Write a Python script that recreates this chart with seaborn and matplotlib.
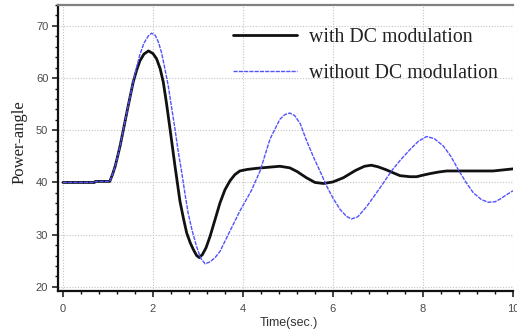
import numpy as np
import pandas as pd
import seaborn as sns
import matplotlib.pyplot as plt
from matplotlib.ticker import MultipleLocator

# === Dati ===
t_with = [0.00, 0.70, 0.72, 1.04, 1.10, 1.16, 1.22, 1.27, 1.34, 1.45, 1.56, 1.64,
          1.71, 1.80, 1.90, 2.00, 2.08, 2.16, 2.23, 2.30, 2.38, 2.49, 2.60, 2.68,
          2.75, 2.83, 2.90, 2.97, 3.03, 3.10, 3.18, 3.27, 3.38, 3.49, 3.60, 3.71,
          3.82, 3.93, 4.10, 4.30, 4.55, 4.82, 5.04, 5.20, 5.41, 5.60, 5.79, 6.00,
          6.23, 6.50, 6.70, 6.85, 7.00, 7.19, 7.35, 7.49, 7.71, 7.86, 8.00, 8.16,
          8.35, 8.53, 9.00, 9.56, 9.78, 10.00]
with_dc = [40.0, 40.0, 40.2, 40.2, 41.5, 43.1, 45.2, 47.0, 50.0, 54.7, 59.2, 61.6,
           63.3, 64.6, 65.2, 64.7, 63.7, 61.8, 59.2, 55.2, 50.2, 43.1, 36.4, 33.0,
           30.3, 28.4, 27.1, 26.0, 25.6, 26.2, 27.5, 29.7, 32.9, 36.1, 38.6, 40.3,
           41.5, 42.2, 42.5, 42.7, 42.9, 43.1, 42.8, 42.1, 40.9, 40.0, 39.8, 40.1,
           40.9, 42.3, 43.1, 43.3, 43.0, 42.4, 41.8, 41.3, 41.1, 41.1, 41.4, 41.7,
           42.0, 42.2, 42.2, 42.2, 42.4, 42.6]

t_without = [0.00, 0.70, 0.72, 1.04, 1.10, 1.16, 1.22, 1.27, 1.34, 1.45, 1.56, 1.64,
             1.71, 1.80, 1.90, 1.97, 2.05, 2.12, 2.19, 2.26, 2.34, 2.41, 2.49, 2.56,
             2.64, 2.71, 2.78, 2.87, 2.97, 3.06, 3.16, 3.27, 3.38, 3.49, 3.70, 3.93,
             4.19, 4.38, 4.60, 4.82, 4.93, 5.04, 5.15, 5.27, 5.40, 5.56, 5.71, 5.86,
             6.00, 6.16, 6.30, 6.41, 6.55, 6.75, 6.95, 7.12, 7.30, 7.49, 7.71, 7.90,
             8.08, 8.25, 8.45, 8.62, 8.78, 8.95, 9.12, 9.30, 9.45, 9.60, 9.71, 9.85,
             10.00]
without_dc = [40.0, 40.0, 40.2, 40.2, 41.5, 43.1, 45.2, 47.0, 50.0, 54.7, 59.3, 62.2,
              64.5, 66.7, 68.1, 68.6, 68.2, 66.9, 64.9, 62.0, 58.5, 54.6, 50.2, 46.0,
              41.9, 37.9, 34.2, 30.8, 27.7, 25.5, 24.4, 24.8, 25.6, 26.8, 30.5, 34.5,
              38.5, 42.2, 48.3, 52.1, 53.0, 53.3, 52.8, 51.3, 48.3, 45.0, 42.2, 39.3,
              37.0, 34.8, 33.5, 33.0, 33.4, 35.4, 37.8, 39.9, 42.2, 44.2, 46.3, 47.9,
              48.8, 48.4, 47.0, 45.0, 42.5, 40.1, 38.0, 36.7, 36.2, 36.3, 36.8, 37.6,
              38.4]

x_ticks = [0, 2, 4, 6, 8, 10]
y_ticks = [20, 30, 40, 50, 60, 70]

sns.set_theme(style="white")
plt.rcParams['font.family'] = ['Liberation Sans', 'DejaVu Sans']

fig = plt.figure(figsize=(5.17, 3.34), dpi=100)
ax = fig.add_axes([58 / 517, 43 / 334, 455 / 517, 286 / 334])

# === Curve ===
sns.lineplot(x=t_with, y=with_dc, ax=ax, color='#111111', linewidth=2.0,
             label='with DC modulation', sort=False)
sns.lineplot(x=t_without, y=without_dc, ax=ax, color='#5252ff', linewidth=1.0,
             linestyle=(0, (3, 0.8)), label='without DC modulation', sort=False)

ax.set_xlim(-0.11, 10.0)
ax.set_ylim(19.2, 74.0)
ax.set_xticks(x_ticks)
ax.set_yticks(y_ticks)
ax.xaxis.set_minor_locator(MultipleLocator(0.4))
ax.yaxis.set_minor_locator(MultipleLocator(2))

ax.grid(True, which='major', linestyle=(0, (1, 1.5)), color='#c4c4c4', linewidth=0.8)

ax.tick_params(which='both', direction='out', bottom=True, left=True,
               colors='#111111', labelcolor='#4a4a4a', labelsize=8)
ax.tick_params(which='major', length=4, width=1.1)
ax.tick_params(which='minor', length=2.5, width=1.0)
ax.tick_params(axis='x', pad=5)
ax.tick_params(axis='y', pad=3)

for side in ['left', 'bottom']:
    ax.spines[side].set_color('#111111')
    ax.spines[side].set_linewidth(1.6)
ax.spines['top'].set_color('#808080')
ax.spines['top'].set_linewidth(1.6)
ax.spines['right'].set_visible(False)

ax.set_xlabel('Time(sec.)', fontsize=9, color='#333333')
ax.xaxis.set_label_coords(0.508, -0.09)
ax.set_ylabel('Power-angle', fontsize=12, color='#222222', family='Liberation Serif')
ax.yaxis.set_label_coords(-0.068, 0.52)

leg = ax.legend(loc='upper left', bbox_to_anchor=(0.385, 0.92), frameon=False,
                prop={'family': 'Liberation Serif', 'size': 14.3},
                handlelength=3.2, handletextpad=0.6, labelspacing=0.85,
                borderpad=0, borderaxespad=0)
for txt in leg.get_texts():
    txt.set_color('#222222')

fig.savefig('out.png', dpi=100, facecolor='white')
